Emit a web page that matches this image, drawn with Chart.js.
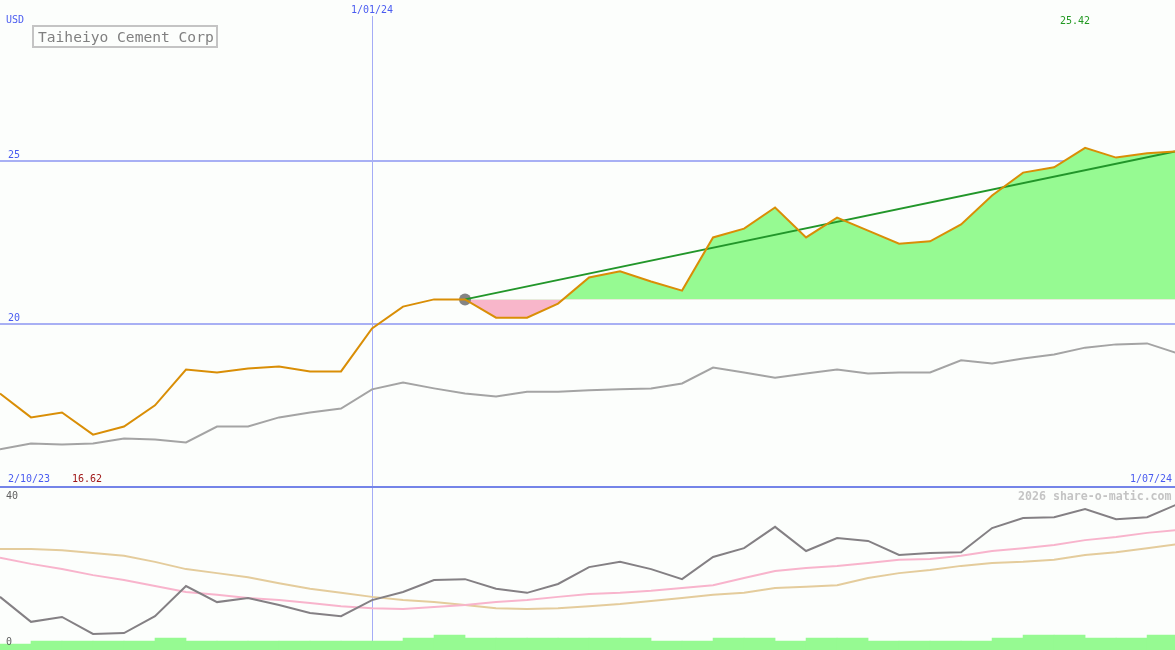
<!DOCTYPE html>
<html>
<head>
<meta charset="utf-8">
<script src="https://cdn.jsdelivr.net/npm/chart.js@4"></script>
<style>
    body { margin: 0; background: #fcfefc; }
    #wrap { position: relative; width: 1175px; height: 650px; overflow: hidden; font-family: "DejaVu Sans Mono", monospace; }
    canvas { position: absolute; left: 0; }
    .lbl { position: absolute; font-size: 10px; line-height: 10px; white-space: nowrap; z-index: 2; }
    #title { position: absolute; left: 32px; top: 25px; width: 178px; height: 19px; border: 2px solid #c4c4c4;
             color: #808080; font-size: 14.6px; line-height: 19px; padding-left: 4px; box-sizing: content-box; }
    #sep { position: absolute; left: 0; top: 486px; width: 1175px; height: 2px; background: #7484e8; }
</style>
</head>
<body>
<div id="wrap">
    <canvas id="priceChart" width="1175" height="487" style="top:0"></canvas>
    <div id="sep"></div>
    <canvas id="indChart" width="1175" height="162" style="top:488px"></canvas>
    <div id="title">Taiheiyo Cement Corp</div>
    <div class="lbl" style="left:6px;top:15px;color:#4a5cf0">USD</div>
    <div class="lbl" style="left:1060px;top:16px;color:#229922">25.42</div>
    <div class="lbl" style="left:8px;top:474px;color:#4a5cf0">2/10/23</div>
    <div class="lbl" style="left:72px;top:474px;color:#a01818">16.62</div>
    <div class="lbl" style="left:1130px;top:474px;color:#4a5cf0">1/07/24</div>
    <div class="lbl" style="left:6px;top:491px;color:#606060">40</div>
    <div class="lbl" style="left:6px;top:637px;color:#606060">0</div>
    <div class="lbl" style="left:1018px;top:490px;color:#c4c4c4;font-size:11.6px;line-height:12px;font-weight:bold">2026 share-o-matic.com</div>
</div>
<script>
// weekly points, 2/10/23 .. 1/07/24
const weekIndex = 12;          // 1/01/24
const weekLabel = '1/01/24';
const priceTicks = [20, 25];

const prices = [17.88, 17.15, 17.30, 16.62, 16.87, 17.52, 18.62, 18.53, 18.65, 18.71,
    18.56, 18.56, 19.88, 20.55, 20.77, 20.77, 20.21, 20.21, 20.64, 21.44,
    21.63, 21.32, 21.04, 22.67, 22.94, 23.59, 22.67, 23.28, 22.88, 22.48,
    22.55, 23.07, 23.96, 24.66, 24.82, 25.42, 25.12, 25.25, 25.31];

const market = [16.17, 16.35, 16.32, 16.35, 16.50, 16.47, 16.38, 16.87, 16.87, 17.15,
    17.30, 17.42, 18.01, 18.22, 18.04, 17.88, 17.79, 17.94, 17.94, 17.98,
    18.01, 18.04, 18.19, 18.68, 18.53, 18.37, 18.50, 18.62, 18.50, 18.53,
    18.53, 18.90, 18.80, 18.96, 19.08, 19.29, 19.39, 19.42, 19.11];

// trend from buy point to end
const trendX = [15, 37.9];
const trendY = [20.77, 25.31];

const indicator = [13.2, 7.0, 8.2, 4.0, 4.2, 8.4, 15.9, 11.9, 12.9, 11.2,
    9.2, 8.4, 12.4, 14.4, 17.4, 17.6, 15.2, 14.2, 16.4, 20.6,
    21.9, 20.1, 17.6, 23.1, 25.3, 30.6, 24.6, 27.8, 27.1, 23.6,
    24.1, 24.3, 30.3, 32.8, 33.0, 35.0, 32.5, 33.0, 36.3];

const avgFast = [22.9, 21.4, 20.1, 18.6, 17.4, 15.9, 14.4, 13.7, 12.9, 12.4,
    11.7, 10.9, 10.4, 10.2, 10.7, 11.2, 11.9, 12.4, 13.2, 13.9,
    14.2, 14.7, 15.4, 16.1, 17.9, 19.6, 20.4, 20.9, 21.6, 22.4,
    22.6, 23.4, 24.6, 25.3, 26.1, 27.3, 28.1, 29.1, 29.8];

const avgSlow = [25.1, 25.1, 24.8, 24.1, 23.4, 21.9, 20.1, 19.1, 18.1, 16.6,
    15.2, 14.2, 13.2, 12.4, 11.9, 11.2, 10.4, 10.2, 10.4, 10.9,
    11.4, 12.2, 12.9, 13.7, 14.2, 15.4, 15.7, 16.1, 17.9, 19.1,
    19.9, 20.9, 21.6, 21.9, 22.4, 23.6, 24.3, 25.3, 26.3];

const volumes = [2, 3, 3, 3, 3, 4, 3, 3, 3, 3, 3, 3, 3, 4, 5, 4, 4, 4, 4, 4, 4,
    3, 3, 4, 4, 3, 4, 4, 3, 3, 3, 3, 4, 5, 5, 4, 4, 5];

const buyIndex = 15;
const xMax = 37.9;

function pts(arr) {
    return arr.map((v, i) => ({ x: i, y: v }));
}

function xAxis(showLabel) {
    return {
        type: 'linear',
        position: 'top',
        min: 0,
        max: xMax,
        offset: false,
        afterBuildTicks: (axis) => { axis.ticks = [{ value: weekIndex }]; },
        afterFit: (axis) => {
            axis.height = showLabel ? 16 : 0;
            axis.paddingLeft = axis.paddingRight = 0;
        },
        ticks: {
            display: showLabel,
            padding: 0,
            color: '#4a5cf0',
            font: { family: 'DejaVu Sans Mono', size: 10 },
            callback: () => weekLabel
        },
        grid: { color: '#a4acf6', lineWidth: 1, drawTicks: false, offset: false },
        border: { display: false }
    };
}

const basePrice = prices[buyIndex];
const gainArea = prices.map((v, i) => ({ x: i, y: i >= buyIndex ? v : null }));

new Chart(document.getElementById('priceChart'), {
    type: 'line',
    data: {
        datasets: [
            { data: pts(prices), borderColor: '#d98e06', borderWidth: 2, pointRadius: 0 },
            {
                data: trendX.map((x, i) => ({ x, y: trendY[i] })),
                borderColor: '#22962a', borderWidth: 2,
                pointRadius: 0
            },
            {
                data: [{ x: buyIndex, y: basePrice }],
                showLine: false, pointRadius: 6, pointBackgroundColor: '#848484',
                pointBorderWidth: 0
            },
            { data: pts(market), borderColor: '#a4a4a4', borderWidth: 2, pointRadius: 0 },
            {
                data: gainArea, borderWidth: 0, pointRadius: 0, spanGaps: false,
                fill: { target: { value: basePrice }, above: '#96fa92', below: '#f8b6ca' }
            }
        ]
    },
    options: {
        responsive: false,
        animation: false,
        layout: { padding: 0, autoPadding: false },
        plugins: { legend: { display: false }, tooltip: { enabled: false } },
        scales: {
            x: xAxis(true),
            y: {
                min: 15.015,
                max: 29.463,
                afterBuildTicks: (axis) => { axis.ticks = priceTicks.map(v => ({ value: v })); },
                afterFit: (axis) => {
                    axis.width = 0;
                    axis.paddingTop = axis.paddingBottom = 0;
                },
                ticks: {
                    mirror: true,
                    padding: 8,
                    labelOffset: -6,
                    color: '#4a5cf0',
                    font: { family: 'DejaVu Sans Mono', size: 10 }
                },
                grid: { color: '#a8b0f4', lineWidth: 2, drawTicks: false },
                border: { display: false }
            }
        }
    }
});

new Chart(document.getElementById('indChart'), {
    type: 'line',
    data: {
        datasets: [
            { data: pts(indicator), borderColor: '#848084', borderWidth: 2, pointRadius: 0 },
            { data: pts(avgFast), borderColor: '#f8b4cc', borderWidth: 2, pointRadius: 0 },
            { data: pts(avgSlow), borderColor: '#e4cc9c', borderWidth: 2, pointRadius: 0 },
            {
                type: 'bar',
                yAxisID: 'yv',
                data: volumes.map((v, i) => ({ x: i + 0.5, y: v })),
                backgroundColor: '#96fa92',
                barPercentage: 1,
                categoryPercentage: 1,
                borderWidth: 0
            }
        ]
    },
    options: {
        responsive: false,
        animation: false,
        layout: { padding: 0, autoPadding: false },
        plugins: { legend: { display: false }, tooltip: { enabled: false } },
        scales: {
            x: xAxis(false),
            y: { min: 0, max: 40.25, display: false },
            yv: { min: 0, max: 54, display: false }
        }
    }
});
</script>
</body>
</html>
